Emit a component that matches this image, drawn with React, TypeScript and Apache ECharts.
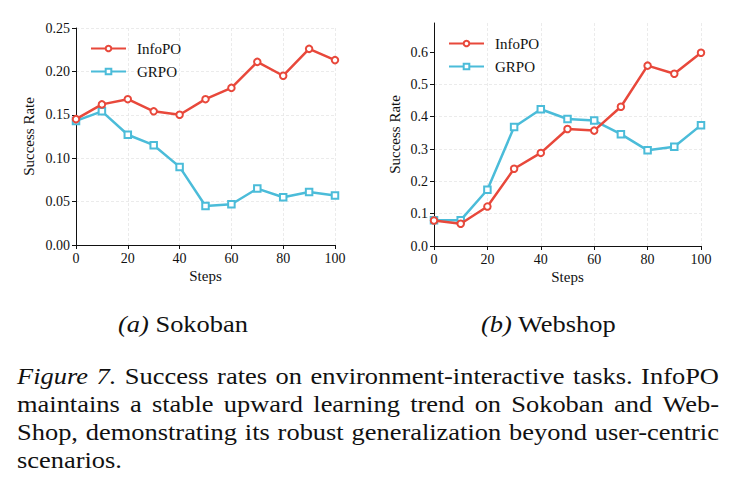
import React, { useEffect, useRef } from "react";
import * as echarts from "echarts";

const steps = [0, 10, 20, 30, 40, 50, 60, 70, 80, 90, 100];
const sokobanInfoPO = [0.145, 0.162, 0.168, 0.154, 0.150, 0.168, 0.181, 0.211, 0.195, 0.226, 0.213];
const sokobanGRPO = [0.143, 0.154, 0.127, 0.115, 0.090, 0.045, 0.047, 0.065, 0.055, 0.061, 0.057];
const webshopInfoPO = [0.079, 0.069, 0.122, 0.239, 0.288, 0.362, 0.357, 0.431, 0.558, 0.533, 0.598];
const webshopGRPO = [0.080, 0.080, 0.174, 0.368, 0.423, 0.393, 0.388, 0.346, 0.296, 0.307, 0.374];
const leftYTicks = [0, 0.05, 0.1, 0.15, 0.2, 0.25];
const rightYTicks = [0, 0.1, 0.2, 0.3, 0.4, 0.5, 0.6];
const seriesNames = ["InfoPO", "GRPO"];
const subCaptions = [
  { tag: "(a)", name: "Sokoban" },
  { tag: "(b)", name: "Webshop" },
];
const captionLines = [
  "Figure 7. Success rates on environment-interactive tasks. InfoPO",
  "maintains a stable upward learning trend on Sokoban and Web-",
  "Shop, demonstrating its robust generalization beyond user-centric",
  "scenarios.",
];
const italicWords = ["Figure", "7."];

const FONT = '"Liberation Serif", "Times New Roman", serif';
const RED = "#e8483b";
const BLUE = "#4bbcd9";
const CAP_SIZE = 23;
const CAP_SCALE = 1.15;

function buildCaption(): any[] {
  const canvas = document.createElement("canvas");
  const ctx = canvas.getContext("2d") as CanvasRenderingContext2D;
  const left = 17;
  const right = 719;
  const baselines = [384, 412, 440, 468];
  const els: any[] = [];
  captionLines.forEach((line, li) => {
    const words = line.split(" ");
    const widths = words.map((w, wi) => {
      const it = li === 0 && wi < italicWords.length;
      ctx.font = `${it ? "italic " : ""}${CAP_SIZE}px ${FONT}`;
      return ctx.measureText(w).width * CAP_SCALE;
    });
    const total = widths.reduce((a, b) => a + b, 0);
    const last = li === captionLines.length - 1;
    ctx.font = `${CAP_SIZE}px ${FONT}`;
    const space = ctx.measureText(" ").width * CAP_SCALE;
    const gap = last ? space : (right - left - total) / (words.length - 1);
    let x = left;
    words.forEach((w, wi) => {
      const it = li === 0 && wi < italicWords.length;
      els.push({
        type: "text",
        x,
        y: baselines[li] - 7.5,
        scaleX: CAP_SCALE,
        style: {
          text: w,
          fontFamily: FONT,
          fontSize: CAP_SIZE,
          fontStyle: it ? "italic" : "normal",
          fill: "#111",
          verticalAlign: "middle",
        },
      });
      x += widths[wi] + gap;
    });
  });
  return els;
}

function App() {
  const ref = useRef<HTMLDivElement>(null);
  useEffect(() => {
    if (!ref.current) return;
    const chart = echarts.init(ref.current, null, { renderer: "svg" });
    const axisCommon = {
      axisLine: { show: true, lineStyle: { color: "#111", width: 1 } },
      axisTick: { show: true, inside: false, length: 4, lineStyle: { color: "#111" } },
      splitLine: { show: true, lineStyle: { color: "#e6e6e6", type: [3, 2], width: 0.8 } },
      nameTextStyle: { fontFamily: FONT, fontSize: 15, color: "#111" },
    };
    const xAxis = (i: number) => ({
      ...axisCommon,
      type: "value",
      gridIndex: i,
      min: 0,
      max: 100,
      interval: 20,
      name: "Steps",
      nameLocation: "middle",
      nameGap: 23,
      axisLabel: { fontFamily: FONT, fontSize: 14, color: "#111", margin: 6 },
    });
    const mkSeries = (name: string, data: number[], idx: number, color: string, symbol: string) => ({
      name,
      type: "line",
      xAxisIndex: idx,
      yAxisIndex: idx,
      data: steps.map((s, i) => [s, data[i]]),
      symbol,
      symbolSize: 6.5,
      showSymbol: true,
      lineStyle: { color, width: 2.5, type: "solid" },
      itemStyle: { color, borderWidth: 1.5 },
      color,
      z: name === "InfoPO" ? 3 : 2,
    });
    const legend = (left: number, top: number) => ({
      orient: "vertical",
      left,
      top,
      padding: 0,
      itemWidth: 35,
      itemHeight: 7,
      itemGap: 8,
      data: seriesNames,
      textStyle: { fontFamily: FONT, fontSize: 15, color: "#111", padding: [0, 0, 0, 6] },
    });
    const subCaptionEls = subCaptions.map((s, i) => ({
      type: "text",
      x: i === 0 ? 118 : 481,
      y: 324,
      scaleX: CAP_SCALE,
      style: {
        text: `{i|${s.tag}} ${s.name}`,
        fontFamily: FONT,
        fontSize: CAP_SIZE,
        fill: "#111",
        verticalAlign: "middle",
        rich: { i: { fontStyle: "italic", fontFamily: FONT, fontSize: CAP_SIZE, fill: "#111" } },
      },
    }));
    chart.setOption({
      animation: false,
      backgroundColor: "#fff",
      textStyle: { fontFamily: FONT },
      grid: [
        { left: 76, top: 28, width: 259, height: 217 },
        { left: 434, top: 23, width: 267, height: 223 },
      ],
      xAxis: [xAxis(0), xAxis(1)],
      yAxis: [
        {
          ...axisCommon,
          type: "value",
          gridIndex: 0,
          min: 0,
          max: 0.25,
          interval: 0.05,
          name: "Success Rate",
          nameLocation: "middle",
          nameGap: 40,
          axisLabel: {
            fontFamily: FONT,
            fontSize: 14,
            color: "#111",
            margin: 6,
            formatter: (v: number) => v.toFixed(2),
            customValues: leftYTicks,
          },
          axisTick: { ...axisCommon.axisTick, customValues: leftYTicks },
        },
        {
          ...axisCommon,
          type: "value",
          gridIndex: 1,
          min: 0,
          max: 0.69,
          interval: 0.1,
          name: "Success Rate",
          nameLocation: "middle",
          nameGap: 32,
          splitLine: { ...axisCommon.splitLine, showMaxLine: false },
          axisLabel: {
            fontFamily: FONT,
            fontSize: 14,
            color: "#111",
            margin: 6,
            formatter: (v: number) => v.toFixed(1),
            customValues: rightYTicks,
          },
          axisTick: { ...axisCommon.axisTick, customValues: rightYTicks },
        },
      ],
      legend: [legend(90, 41), legend(448, 36)],
      series: [
        mkSeries("InfoPO", sokobanInfoPO, 0, RED, "emptyCircle"),
        mkSeries("GRPO", sokobanGRPO, 0, BLUE, "emptyRect"),
        mkSeries("InfoPO", webshopInfoPO, 1, RED, "emptyCircle"),
        mkSeries("GRPO", webshopGRPO, 1, BLUE, "emptyRect"),
      ],
      graphic: [...subCaptionEls, ...buildCaption()],
    });
    return () => chart.dispose();
  }, []);
  return (
    <div
      ref={ref}
      style={{ position: "fixed", left: 0, top: 0, width: 739, height: 496, background: "#fff" }}
    />
  );
}

export default App;
